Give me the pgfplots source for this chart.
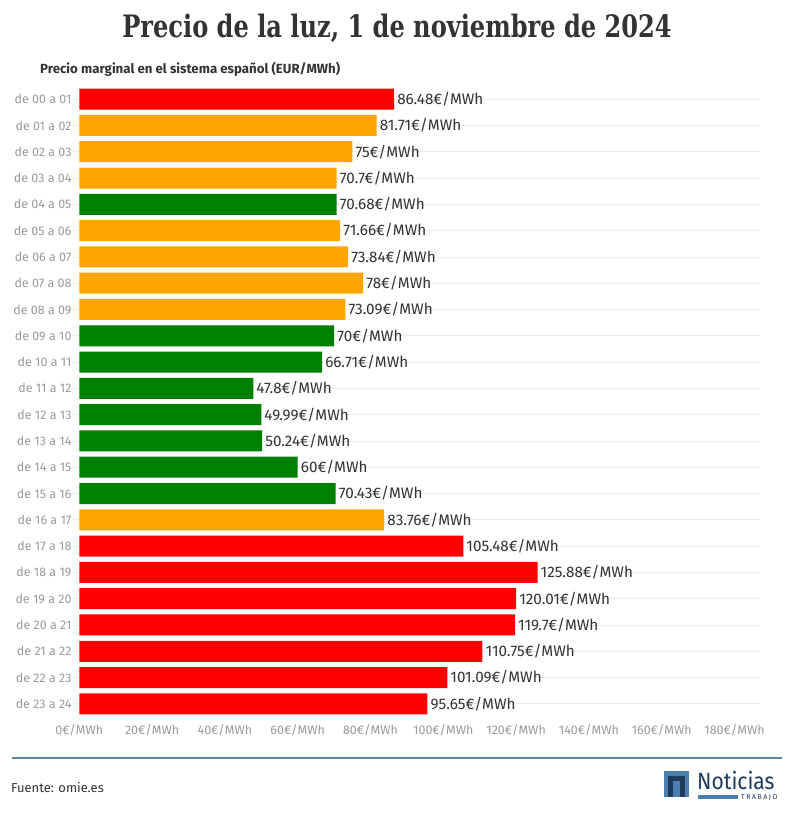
\documentclass[border=0pt]{standalone}
\usepackage{pgfplots}
\pgfplotsset{compat=1.18}
\usepackage{pgfplotstable}
\usepackage{fontspec}
\setmainfont{Fira Sans}
\newfontfamily\titlefont[FakeStretch=0.78]{DejaVu Serif}
\newfontfamily\logofont[FakeStretch=0.9]{Fira Sans}
\newfontfamily\logosmall[LetterSpace=22]{Fira Sans}
\definecolor{barred}{HTML}{FF0000}
\definecolor{barorange}{HTML}{FFA500}
\definecolor{bargreen}{HTML}{008000}
\definecolor{txt}{HTML}{333333}
\definecolor{tickgray}{HTML}{9A9A9A}
\definecolor{gridgray}{HTML}{ECECEC}
\definecolor{lineblue}{HTML}{5A86AE}
\definecolor{logoblue}{HTML}{4A7FB0}
\definecolor{logonavy}{HTML}{1F3A5C}

\pgfplotstableread{
idx val lab
0 86.48 86.48
17 105.48 105.48
18 125.88 125.88
19 120.01 120.01
20 119.7 119.7
21 110.75 110.75
22 101.09 101.09
23 95.65 95.65
}\redtab
\pgfplotstableread{
idx val lab
1 81.71 81.71
2 75 75
3 70.7 70.7
5 71.66 71.66
6 73.84 73.84
7 78 78
8 73.09 73.09
16 83.76 83.76
}\orangetab
\pgfplotstableread{
idx val lab
4 70.68 70.68
9 70 70
10 66.71 66.71
11 47.8 47.8
12 49.99 49.99
13 50.24 50.24
14 60 60
15 70.43 70.43
}\greentab

\begin{document}
\begin{tikzpicture}
\path[use as bounding box, fill=white] (0,0) rectangle (794bp,-817bp);
\node[font=\titlefont\bfseries\fontsize{31}{36}\selectfont, text=txt] at (397bp,-28bp) {Precio de la luz, 1 de noviembre de 2024};
\node[anchor=west, font=\bfseries\fontsize{13.3}{15}\selectfont, text=txt, inner sep=0pt] at (40bp,-69bp) {Precio marginal en el sistema español (EUR/MWh)};
\begin{axis}[
  at={(72bp,-86bp)}, anchor=north west,
  scale only axis, width=688bp, height=631bp,
  xmin=-2, xmax=187, ymin=-0.5, ymax=23.5, y dir=reverse,
  xbar, bar width=21bp, bar shift=0pt,
  axis line style={draw=none}, major tick length=0pt,
  xtick={0,20,...,180},
  xticklabels={0€/MWh,20€/MWh,40€/MWh,60€/MWh,80€/MWh,100€/MWh,120€/MWh,140€/MWh,160€/MWh,180€/MWh},
  ytick={0,...,23},
  yticklabels={de 00 a 01,de 01 a 02,de 02 a 03,de 03 a 04,de 04 a 05,de 05 a 06,de 06 a 07,de 07 a 08,de 08 a 09,de 09 a 10,de 10 a 11,de 11 a 12,de 12 a 13,de 13 a 14,de 14 a 15,de 15 a 16,de 16 a 17,de 17 a 18,de 18 a 19,de 19 a 20,de 20 a 21,de 21 a 22,de 22 a 23,de 23 a 24},
  ymajorgrids, grid style={gridgray, line width=0.8pt},
  ticklabel style={font=\fontsize{12.5}{14}\selectfont, text=tickgray},
  yticklabel style={xshift=3bp},
  xticklabel style={yshift=-4bp},
  point meta=explicit symbolic,
  nodes near coords={\pgfplotspointmeta€/MWh},
  nodes near coords style={anchor=west, font=\fontsize{15.3}{18}\selectfont, text=txt, inner sep=3bp},
  clip=false,
]
\addplot[draw=none, fill=barred] table[x=val, y=idx, meta=lab] {\redtab};
\addplot[draw=none, fill=barorange] table[x=val, y=idx, meta=lab] {\orangetab};
\addplot[draw=none, fill=bargreen] table[x=val, y=idx, meta=lab] {\greentab};
\end{axis}
\draw[lineblue, line width=2.2bp] (12bp,-758bp) -- (782bp,-758bp);
\node[anchor=west, font=\fontsize{13}{15}\selectfont, text=txt, inner sep=0pt] at (11bp,-788bp) {Fuente: omie.es};
% logo
\fill[logoblue] (664bp,-771bp) rectangle (689bp,-797bp);
\fill[logonavy] (668bp,-776bp) rectangle (685bp,-797bp);
\fill[logoblue] (673bp,-781bp) rectangle (680bp,-797bp);
\node[anchor=base west, font=\logofont\fontsize{23.5}{24}\selectfont, text=logonavy, inner sep=0pt] at (697bp,-789bp) {Noticias};
\fill[logoblue] (698bp,-795bp) rectangle (738bp,-798.5bp);
\node[anchor=base west, font=\logosmall\fontsize{7}{7}\selectfont, text=logonavy, inner sep=0pt] at (741bp,-799.5bp) {TRABAJO};
\end{tikzpicture}
\end{document}
